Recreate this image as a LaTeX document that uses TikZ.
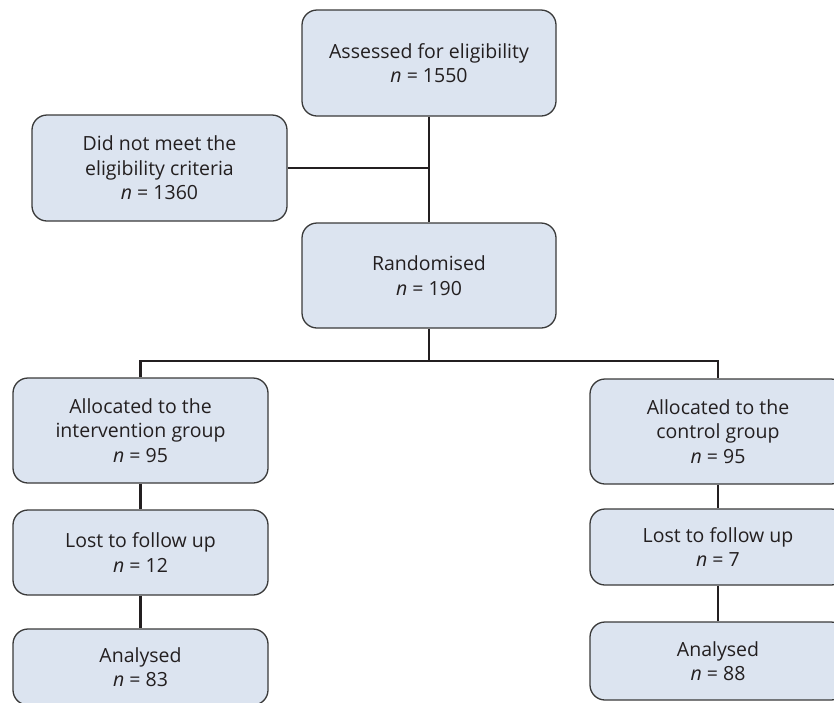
\documentclass[tikz,border=0pt]{standalone}
\usepackage{fontspec}
\setmainfont{Open Sans}
\usepackage{xcolor}
\definecolor{boxfill}{HTML}{DCE4F0}
\definecolor{boxline}{HTML}{3A3A3A}
\definecolor{linkline}{HTML}{231F20}
\tikzset{
	flowbox/.style={draw=boxline, fill=boxfill, line width=1.3pt, rounded corners=15pt,
		align=center, inner sep=0pt, minimum width=255pt, minimum height=105pt,
		text=linkline, font=\fontsize{19.5}{24.5}\selectfont},
	link/.style={draw=linkline, line width=2.2pt}
}
\newcommand{\nval}[1]{\textit{n} = #1}

\begin{document}
\begin{tikzpicture}[x=1pt,y=-1pt]
		\useasboundingbox (0,0) rectangle (834,702);
		% top part
		\node[flowbox, minimum width=254pt, minimum height=106pt] (assess) at (429,63)
			{Assessed for eligibility\\ \nval{1550}};
		\node[flowbox, minimum height=106pt] (notmet) at (159.5,168)
			{Did not meet the\\ eligibility criteria\\ \nval{1360}};
		\node[flowbox, minimum width=254pt] (rand) at (429,275.5)
			{Randomised\\ \nval{190}};
		% intervention arm
		\node[flowbox] (lalloc) at (140.5,430.5)
			{Allocated to the\\ intervention group\\ \nval{95}};
		\node[flowbox, minimum height=85pt] (llost) at (140.5,552.5)
			{Lost to follow up\\ \nval{12}};
		\node[flowbox, minimum height=76pt] (lanal) at (140.5,667)
			{Analysed\\ \nval{83}};
		% control arm
		\node[flowbox, minimum width=256pt] (ralloc) at (718,431.5)
			{Allocated to the\\ control group\\ \nval{95}};
		\node[flowbox, minimum width=256pt, minimum height=76pt] (rlost) at (718,547)
			{Lost to follow up\\ \nval{7}};
		\node[flowbox, minimum width=256pt, minimum height=78pt] (ranal) at (718,661)
			{Analysed\\ \nval{88}};
		% connectors
		\coordinate (split) at (429,361);
		\draw[link] (assess.south) -- (rand.north);
		\draw[link] (notmet.east) -- (assess.south |- notmet.east);
		\draw[link] (rand.south) -- (split);
		\draw[link] (lalloc.north) |- (split) -| (ralloc.north);
		\draw[link] (lalloc.south) -- (llost.north);
		\draw[link] (llost.south) -- (lanal.north);
		\draw[link] (ralloc.south) -- (rlost.north);
		\draw[link] (rlost.south) -- (ranal.north);
	\end{tikzpicture}
\end{document}
